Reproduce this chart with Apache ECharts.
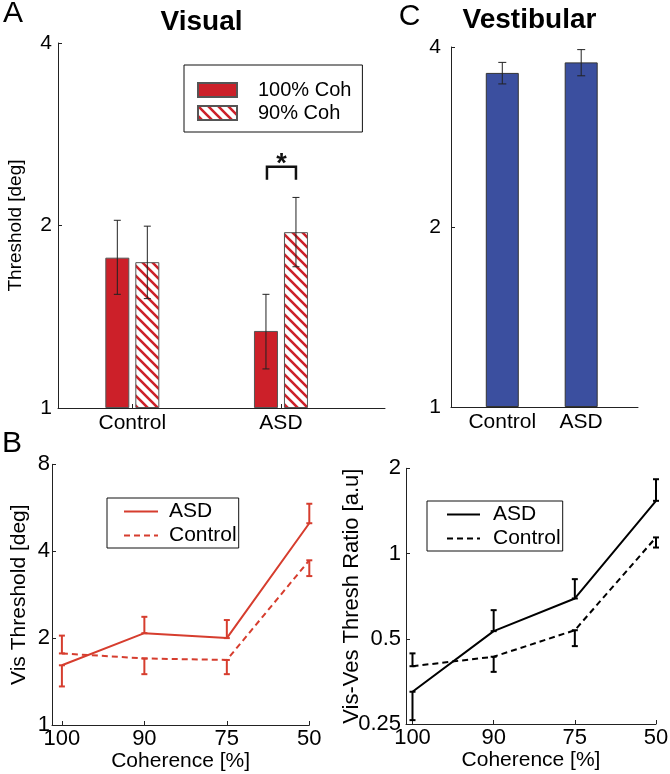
<!DOCTYPE html>
<html><head><meta charset="utf-8">
<script src="https://cdn.jsdelivr.net/npm/echarts@6/dist/echarts.min.js"></script>
<style>html,body{margin:0;padding:0;background:#fff}#c{width:670px;height:774px}</style>
</head><body><div id="c"></div><script>
// ---- Panel A: Visual thresholds ----
const groupsA = ['Control', 'ASD'];
const coh100 = [1.77, 1.34];
const coh100Lo = [1.54, 1.16];
const coh100Hi = [2.04, 1.54];
const coh90 = [1.74, 1.95];
const coh90Lo = [1.515, 1.71];
const coh90Hi = [1.995, 2.225];
const sigPair = [[2, 2.38, 2.5]]; // group index, bracket leg bottom, bracket top
// ---- Panel C: Vestibular thresholds ----
const groupsC = ['Control', 'ASD'];
const vest = [3.62, 3.77];
const vestLo = [3.47, 3.58];
const vestHi = [3.77, 3.96];
// ---- Panel B ----
const coherence = ['100', '90', '75', '50'];
const visASD = [1.61, 2.08, 2.0, 5.0];
const visASDErr = [1.36, 2.37, 2.31, 5.84];
const visCtl = [1.77, 1.70, 1.68, 3.72];
const visCtlErr = [2.04, 1.50, 1.50, 3.28];
const ratioASD = [0.325, 0.532, 0.694, 1.535];
const ratioASDErr = [0.258, 0.631, 0.812, 1.83];
const ratioCtl = [0.400, 0.432, 0.536, 1.14];
const ratioCtlErr = [0.444, 0.382, 0.471, 1.05];

const FONT = '"Liberation Sans", Arial, Helvetica, sans-serif';
const RED = '#cc2029';
const LRED = '#d63d2e';
const BLUE = '#3b4f9f';
const AX = '#222';

function hatch(color) {
  const s = 10, c = document.createElement('canvas');
  c.width = s; c.height = s;
  const g = c.getContext('2d');
  g.fillStyle = '#fff'; g.fillRect(0, 0, s, s);
  g.strokeStyle = color; g.lineWidth = 2.6;
  g.beginPath();
  for (let k = -1; k <= 1; k++) { g.moveTo(-1, -1 + k * s); g.lineTo(s + 1, s + 1 + k * s); }
  g.stroke();
  return c;
}

function errBars(offset, half, color, width) {
  return function (params, api) {
    const x = api.value(0);
    const a = api.coord([x, api.value(1)]);
    const b = api.coord([x, api.value(2)]);
    const cx = a[0] + offset;
    const st = () => ({ stroke: color, lineWidth: width });
    return { type: 'group', children: [
      { type: 'line', shape: { x1: cx, y1: a[1], x2: cx, y2: b[1] }, style: st() },
      { type: 'line', shape: { x1: cx - half, y1: a[1], x2: cx + half, y2: a[1] }, style: st() },
      { type: 'line', shape: { x1: cx - half, y1: b[1], x2: cx + half, y2: b[1] }, style: st() }
    ] };
  };
}

const logLabel = v => String(+(+v).toFixed(3));

function xVal(gi, min, max, vals, labels, fs, margin, name, nameGap) {
  return {
    gridIndex: gi, type: 'value', min: min, max: max,
    splitLine: { show: false },
    axisLine: { show: true, onZero: false, lineStyle: { color: AX, width: 1 } },
    axisTick: { show: true, inside: true, length: 4, customValues: vals, lineStyle: { color: AX } },
    axisLabel: { customValues: vals, formatter: v => labels[Math.round(v) - 1], fontSize: fs, color: '#000', margin: margin, fontFamily: FONT },
    name: name || '', nameLocation: 'middle', nameGap: nameGap || 0, nameMoveOverlap: false,
    nameTextStyle: { fontSize: 21, color: '#000', fontFamily: FONT }
  };
}
function yLog(gi, min, max, fs, margin, name, nameGap, nameSize) {
  return {
    gridIndex: gi, type: 'log', logBase: 2, min: min, max: max,
    splitLine: { show: false }, minorTick: { show: false },
    axisLine: { show: true, onZero: false, lineStyle: { color: AX, width: 1 } },
    axisTick: { show: true, inside: true, length: 4, lineStyle: { color: AX } },
    axisLabel: { formatter: logLabel, fontSize: fs, color: '#000', margin: margin, fontFamily: FONT },
    name: name || '', nameLocation: 'middle', nameGap: nameGap || 0, nameMoveOverlap: false,
    nameTextStyle: { fontSize: nameSize || 19, color: '#000', fontFamily: FONT }
  };
}

const chart = echarts.init(document.getElementById('c'), null, { renderer: 'canvas' });
const hatchImg = hatch(RED);

const option = {
  animation: false,
  backgroundColor: '#fff',
  textStyle: { fontFamily: FONT },
  grid: [
    { left: 58, top: 43, width: 327, height: 365, containLabel: false, outerBoundsMode: 'none' },
    { left: 451, top: 47, width: 187, height: 360, containLabel: false, outerBoundsMode: 'none' },
    { left: 52, top: 464.3, width: 257.3, height: 260.7, containLabel: false, outerBoundsMode: 'none' },
    { left: 406, top: 468.3, width: 250, height: 255.7, containLabel: false, outerBoundsMode: 'none' }
  ],
  xAxis: [
    xVal(0, 0.5, 2.7, [1, 2], groupsA, 21, 5),
    xVal(1, 0.35, 2.72, [1, 2], groupsC, 21, 5),
    xVal(2, 0.88, 4, [1, 2, 3, 4], coherence, 22, 3, 'Coherence [%]', 26),
    xVal(3, 0.92, 4, [1, 2, 3, 4], coherence, 22, 3, 'Coherence [%]', 26)
  ],
  yAxis: [
    yLog(0, 1, 4, 21, 6, 'Threshold [deg]', 33, 19),
    yLog(1, 1, 4, 21, 10),
    yLog(2, 1, 8, 22, 2, 'Vis Threshold [deg]', 22, 21),
    yLog(3, 0.25, 2, 22, 5, 'Vis-Ves Thresh Ratio [a.u]', 43, 22)
  ],
  legend: [
    { data: ['100% Coh', '90% Coh'], orient: 'vertical', left: 184, top: 65,
      itemWidth: 39, itemHeight: 14, itemGap: 3, padding: [15, 11, 9, 13], icon: 'rect',
      borderColor: '#111', borderWidth: 1, selectedMode: false,
      textStyle: { fontSize: 20, color: '#000', fontFamily: FONT, padding: [0, 0, 0, 16] } },
    { data: ['ASD (vis)', 'Control (vis)'], orient: 'vertical', left: 107, top: 498,
      itemWidth: 34, itemHeight: 14, itemGap: 3, padding: [3, 2, 2, 16],
      itemStyle: { opacity: 0 },
      borderColor: '#111', borderWidth: 1, selectedMode: false, formatter: n => n.split(' ')[0],
      textStyle: { fontSize: 21, color: '#000', fontFamily: FONT, padding: [0, 0, 0, 6] } },
    { data: ['ASD (ratio)', 'Control (ratio)'], orient: 'vertical', left: 427, top: 501,
      itemWidth: 33, itemHeight: 14, itemGap: 3, padding: [3, 2, 2, 19],
      itemStyle: { opacity: 0 },
      borderColor: '#111', borderWidth: 1, selectedMode: false, formatter: n => n.split(' ')[0],
      textStyle: { fontSize: 21, color: '#000', fontFamily: FONT, padding: [0, 0, 0, 8] } }
  ],
  graphic: [
    { type: 'text', style: { text: 'A', x: 13, y: 14, textAlign: 'center', textVerticalAlign: 'middle', font: '30px ' + FONT, fill: '#000' } },
    { type: 'text', style: { text: 'Visual', x: 201.5, y: 22, textAlign: 'center', textVerticalAlign: 'middle', font: 'bold 28px ' + FONT, fill: '#000' } },
    { type: 'text', style: { text: 'C', x: 409.5, y: 17, textAlign: 'center', textVerticalAlign: 'middle', font: '30px ' + FONT, fill: '#000' } },
    { type: 'text', style: { text: 'Vestibular', x: 529.5, y: 20, textAlign: 'center', textVerticalAlign: 'middle', font: 'bold 28px ' + FONT, fill: '#000' } },
    { type: 'text', style: { text: 'B', x: 12, y: 444, textAlign: 'center', textVerticalAlign: 'middle', font: '30px ' + FONT, fill: '#000' } }
  ],
  series: [
    { type: 'bar', name: '100% Coh', xAxisIndex: 0, yAxisIndex: 0, barWidth: 24, barGap: '25%',
      data: coh100.map((v, i) => [i + 1, v]),
      itemStyle: { color: RED, borderColor: '#555', borderWidth: 1 } },
    { type: 'bar', name: '90% Coh', xAxisIndex: 0, yAxisIndex: 0, barWidth: 24, barGap: '25%',
      data: coh90.map((v, i) => [i + 1, v]),
      itemStyle: { color: { image: hatchImg, repeat: 'repeat' }, borderColor: '#555', borderWidth: 1 } },
    { type: 'custom', name: 'err100', xAxisIndex: 0, yAxisIndex: 0, z: 5,
      data: coh100.map((v, i) => [i + 1, coh100Lo[i], coh100Hi[i]]),
      renderItem: errBars(-15, 3.5, '#222', 1) },
    { type: 'custom', name: 'err90', xAxisIndex: 0, yAxisIndex: 0, z: 5,
      data: coh90.map((v, i) => [i + 1, coh90Lo[i], coh90Hi[i]]),
      renderItem: errBars(15, 3.5, '#222', 1) },
    { type: 'custom', name: 'sig', xAxisIndex: 0, yAxisIndex: 0, z: 6, data: sigPair,
      renderItem: function (params, api) {
        const x = api.value(0);
        const lo = api.coord([x, api.value(1)]);
        const hi = api.coord([x, api.value(2)]);
        const xl = lo[0] - 14, xr = lo[0] + 15;
        return { type: 'group', children: [
          { type: 'polyline', shape: { points: [[xl, lo[1]], [xl, hi[1]], [xr, hi[1]], [xr, lo[1]]] },
            style: { stroke: '#111', lineWidth: 2.5, fill: 'none' } },
          { type: 'text', style: { text: '*', x: (xl + xr) / 2, y: hi[1] - 2, textAlign: 'center', textVerticalAlign: 'middle',
            font: 'bold 27px ' + FONT, fill: '#111' } }
        ] };
      } },
    { type: 'bar', name: 'Vestibular', xAxisIndex: 1, yAxisIndex: 1, barWidth: 33,
      data: vest.map((v, i) => [i + 1, v]),
      itemStyle: { color: BLUE, borderColor: '#333', borderWidth: 1 } },
    { type: 'custom', name: 'errVest', xAxisIndex: 1, yAxisIndex: 1, z: 5,
      data: vest.map((v, i) => [i + 1, vestLo[i], vestHi[i]]),
      renderItem: errBars(0, 4, '#222', 1) },
    { type: 'line', name: 'ASD (vis)', xAxisIndex: 2, yAxisIndex: 2, symbol: 'none', showSymbol: false, color: LRED,
      data: visASD.map((v, i) => [i + 1, v]), lineStyle: { color: LRED, width: 2 } },
    { type: 'line', name: 'Control (vis)', xAxisIndex: 2, yAxisIndex: 2, symbol: 'none', showSymbol: false, color: LRED,
      data: visCtl.map((v, i) => [i + 1, v]), lineStyle: { color: LRED, width: 2, type: [6, 4] } },
    { type: 'custom', name: 'errVisASD', xAxisIndex: 2, yAxisIndex: 2, z: 5,
      data: visASD.map((v, i) => [i + 1, v, visASDErr[i]]), renderItem: errBars(0, 3, LRED, 2) },
    { type: 'custom', name: 'errVisCtl', xAxisIndex: 2, yAxisIndex: 2, z: 5,
      data: visCtl.map((v, i) => [i + 1, v, visCtlErr[i]]), renderItem: errBars(0, 3, LRED, 2) },
    { type: 'line', name: 'ASD (ratio)', xAxisIndex: 3, yAxisIndex: 3, symbol: 'none', showSymbol: false, color: '#000',
      data: ratioASD.map((v, i) => [i + 1, v]), lineStyle: { color: '#000', width: 2 } },
    { type: 'line', name: 'Control (ratio)', xAxisIndex: 3, yAxisIndex: 3, symbol: 'none', showSymbol: false, color: '#000',
      data: ratioCtl.map((v, i) => [i + 1, v]), lineStyle: { color: '#000', width: 2, type: [6, 4] } },
    { type: 'custom', name: 'errRatioASD', xAxisIndex: 3, yAxisIndex: 3, z: 5,
      data: ratioASD.map((v, i) => [i + 1, v, ratioASDErr[i]]), renderItem: errBars(0, 3, '#000', 2) },
    { type: 'custom', name: 'errRatioCtl', xAxisIndex: 3, yAxisIndex: 3, z: 5,
      data: ratioCtl.map((v, i) => [i + 1, v, ratioCtlErr[i]]), renderItem: errBars(0, 3, '#000', 2) }
  ]
};
chart.setOption(option);
</script></body></html>
